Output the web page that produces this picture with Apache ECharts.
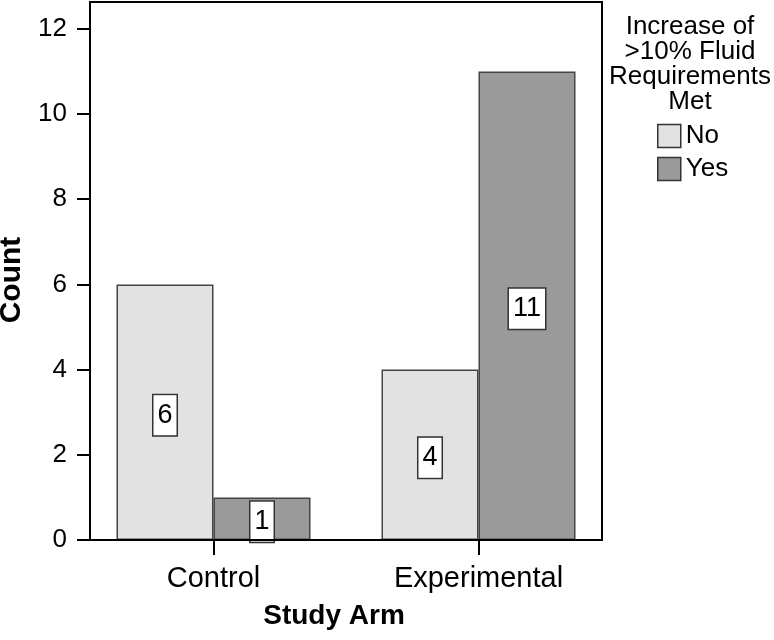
<!DOCTYPE html>
<html>
<head>
<meta charset="utf-8">
<script src="https://cdn.jsdelivr.net/npm/echarts@6/dist/echarts.min.js"></script>
<style>html,body{margin:0;padding:0;background:#fff}#c{width:774px;height:640px}</style>
</head>
<body>
<div id="c"></div>
<script>
const categories = ['Control', 'Experimental'];
const seriesNames = ['No', 'Yes'];
const noValues = [6, 4];
const yesValues = [1, 11];
const yTicks = [0, 2, 4, 6, 8, 10, 12];
const yMax = 12.63;
const legendTitle = 'Increase of\n>10% Fluid\nRequirements\nMet';

const FONT = 'Liberation Sans, Arial, sans-serif';
const chart = echarts.init(document.getElementById('c'), null, {renderer: 'canvas'});

const labelStyle = {
  show: true, position: 'inside', offset: [0, 3],
  color: '#000', fontFamily: FONT, fontSize: 27, lineHeight: 26,
  backgroundColor: '#fff', borderColor: '#333', borderWidth: 1.5,
  padding: [7, 4]
};

chart.setOption({
  animation: false,
  backgroundColor: '#fff',
  grid: [
    {left: 90, top: 2, width: 512, height: 538, show: true, borderColor: '#000', borderWidth: 2, backgroundColor: 'transparent', z: 3, outerBoundsMode: 'none', containLabel: false},
    {left: 81, top: 2, width: 530, height: 538, show: false, outerBoundsMode: 'none', containLabel: false}
  ],
  xAxis: [
    {type: 'category', gridIndex: 0, data: categories, show: false},
    {type: 'category', gridIndex: 1, data: categories, boundaryGap: true,
     axisLine: {show: false},
     axisTick: {show: true, alignWithLabel: true, length: 15, lineStyle: {color: '#000', width: 2}},
     axisLabel: {color: '#000', fontFamily: FONT, fontSize: 29, margin: 24},
     name: 'Study Arm', nameLocation: 'middle', nameGap: 62,
     nameTextStyle: {color: '#000', fontFamily: FONT, fontSize: 28, fontWeight: 'bold', padding: [0, 24, 0, 0]}}
  ],
  yAxis: [
    {type: 'value', gridIndex: 0, min: 0, max: yMax,
     axisLine: {show: false}, splitLine: {show: false},
     axisTick: {show: true, customValues: yTicks, length: 13, lineStyle: {color: '#000', width: 2}},
     axisLabel: {customValues: yTicks, color: '#000', fontFamily: FONT, fontSize: 26, margin: 23},
     name: 'Count', nameLocation: 'middle', nameGap: 59, nameRotate: 90,
     nameTextStyle: {color: '#000', fontFamily: FONT, fontSize: 30, fontWeight: 'bold', padding: [0, 18, 0, 0]}},
    {type: 'value', gridIndex: 1, min: 0, max: yMax, show: false, splitLine: {show: false}}
  ],
  legend: {
    orient: 'vertical', left: 657, top: 123, padding: 0, itemGap: 7,
    itemWidth: 23, itemHeight: 23, icon: 'rect', itemStyle: {borderColor: '#333', borderWidth: 1.5},
    textStyle: {color: '#000', fontFamily: FONT, fontSize: 26, lineHeight: 23},
    data: seriesNames
  },
  graphic: [{
    type: 'text', left: 690 - 82, top: 14,
    style: {text: legendTitle, x: 0, y: 0, width: 164, align: 'center', textAlign: 'center', fill: '#000', font: '26px ' + FONT, lineHeight: 25}
  }],
  series: [
    {name: seriesNames[0], type: 'bar', xAxisIndex: 1, yAxisIndex: 1, data: noValues,
     barWidth: 97, barGap: '0%',
     itemStyle: {color: '#e2e2e2', borderColor: '#444', borderWidth: 1.5},
     label: labelStyle},
    {name: seriesNames[1], type: 'bar', xAxisIndex: 1, yAxisIndex: 1, data: yesValues,
     barWidth: 97, barGap: '0%',
     itemStyle: {color: '#9a9a9a', borderColor: '#444', borderWidth: 1.5},
     label: labelStyle}
  ]
});
</script>
</body>
</html>
